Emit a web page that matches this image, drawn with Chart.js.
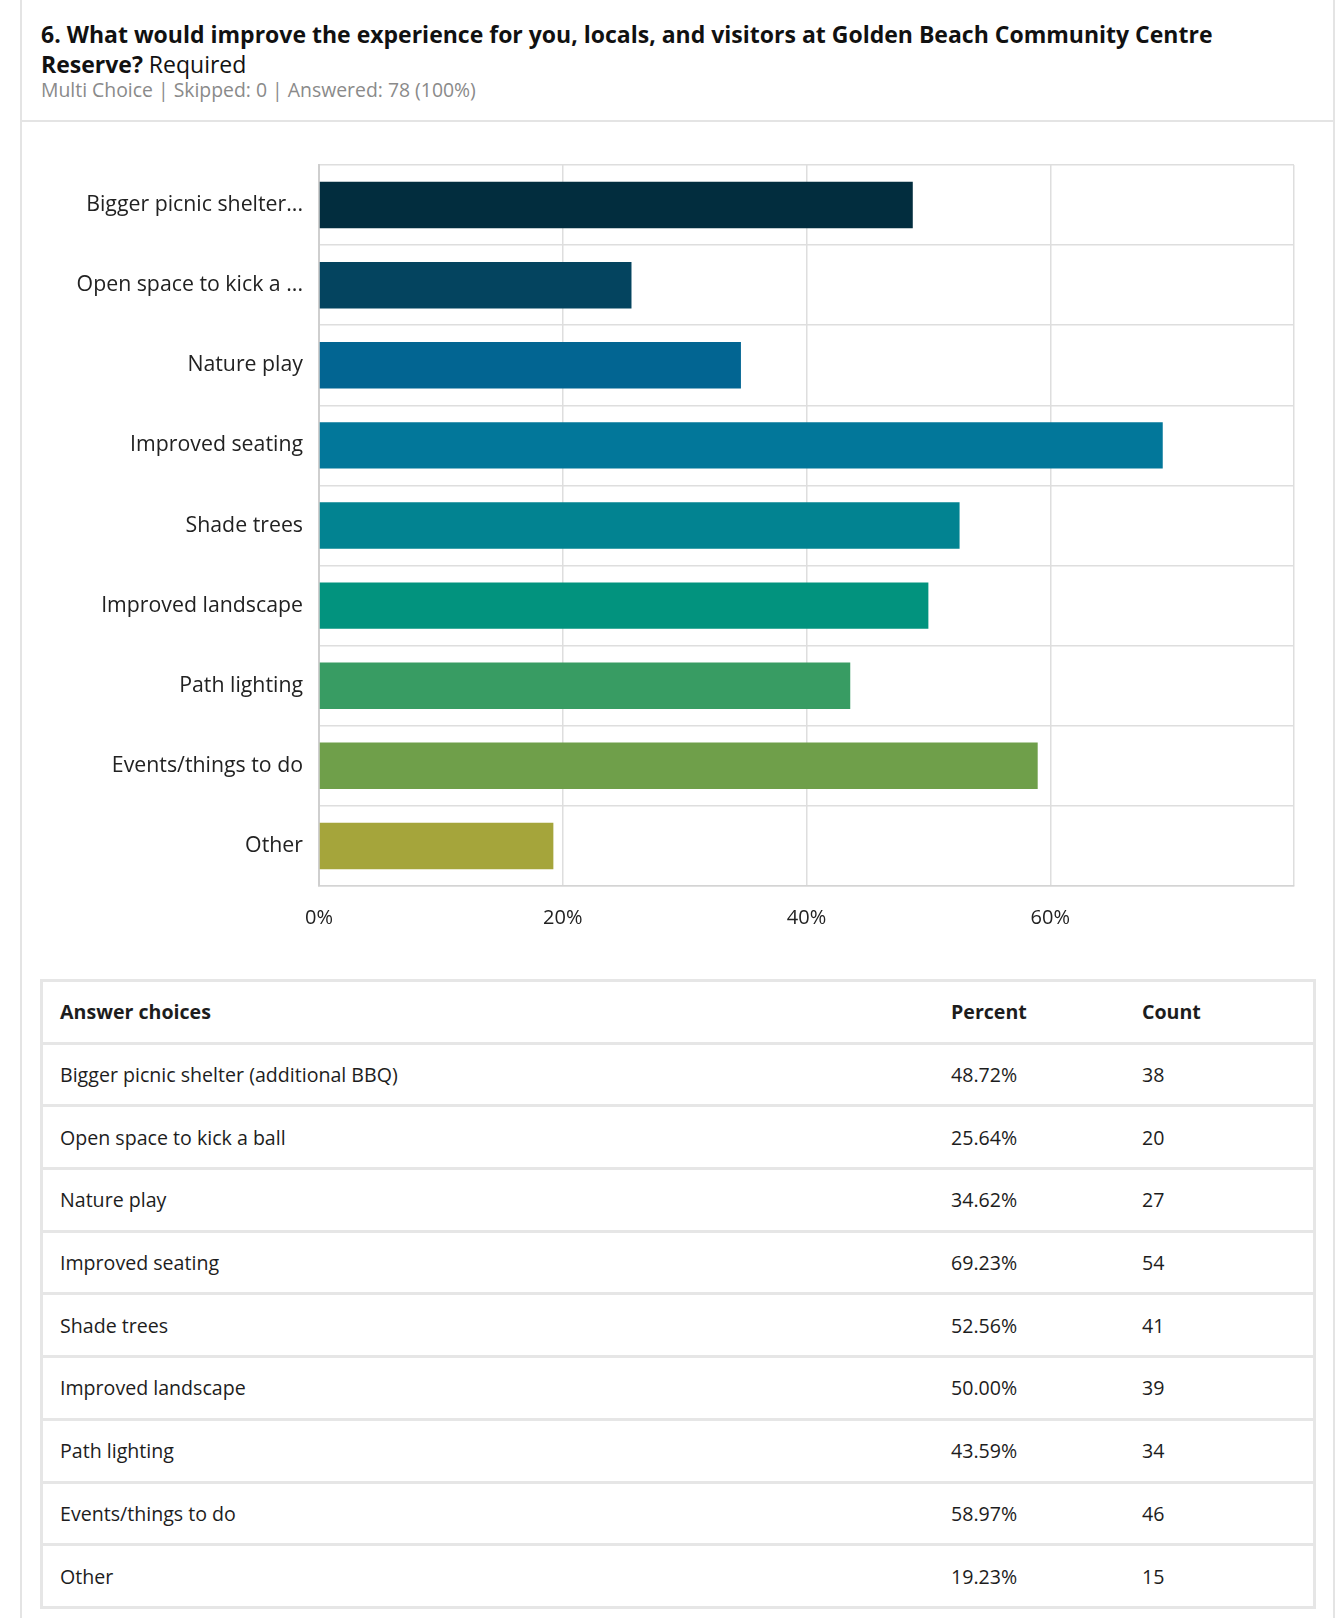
<!DOCTYPE html>
<html>
<head>
<meta charset="utf-8">
<script src="https://cdn.jsdelivr.net/npm/chart.js@4"></script>
<style>
  body { margin: 0; width: 1335px; height: 1618px; overflow: hidden; background: #fff; font-family: "Open Sans", "Noto Sans", sans-serif; color: #1d1d1d; }
  #card { position: absolute; left: 20px; top: -3px; width: 1311px; height: 1640px; border: 2px solid #e4e4e4; }
  #head { position: absolute; left: 19px; top: 20px; white-space: nowrap; }
  #title { font-size: 23px; line-height: 30px; color: #111; }
  #title b { font-weight: 700; }
  #sub { font-size: 19.4px; color: #8a8a8a; line-height: 22px; }
  #sep { position: absolute; left: 0; top: 121px; width: 1311px; height: 2px; background: #e4e4e4; }
  #chartBox { position: absolute; left: 2px; top: 126px; width: 1309px; height: 826px; }
  #tbl { position: absolute; left: 18px; top: 980px; width: 1276px; border-collapse: collapse; font-size: 19.6px; }
  #tbl td, #tbl th { border: 3px solid #e6e6e6; border-left: none; border-right: none; height: 59.7px; padding: 0 0 0 17px; text-align: left; }
  #tbl { border-left: 3px solid #e6e6e6; border-right: 3px solid #e6e6e6; }
  #tbl th { font-weight: 700; }
</style>
</head>
<body>
<div id="card">
  <div id="head">
    <div id="title"><b>6. What would improve the experience for you, locals, and visitors at Golden Beach Community Centre<br>Reserve?</b> Required</div>
    <div id="sub">Multi Choice | Skipped: 0 | Answered: 78 (100%)</div>
  </div>
  <div id="sep"></div>
  <div id="chartBox"><canvas id="grafico"></canvas></div>
  <table id="tbl"></table>
</div>
<script>
// datos de la pregunta 6
var ANSWERS = ["Bigger picnic shelter (additional BBQ)", "Open space to kick a ball", "Nature play", "Improved seating", "Shade trees", "Improved landscape", "Path lighting", "Events/things to do", "Other"];
var CHART_LABELS = ["Bigger picnic shelter...", "Open space to kick a ...", "Nature play", "Improved seating", "Shade trees", "Improved landscape", "Path lighting", "Events/things to do", "Other"];
var PERCENTS = [48.72, 25.64, 34.62, 69.23, 52.56, 50.00, 43.59, 58.97, 19.23];
var COUNTS = [38, 20, 27, 54, 41, 39, 34, 46, 15];
var X_TICKS = [0, 20, 40, 60];
var BAR_COLORS = ["#022d3e", "#04445f", "#026592", "#02779a", "#028391", "#02937e", "#389c63", "#6f9f4a", "#a5a53b"];

// tabla de respuestas
var tbl = document.getElementById("tbl");
var html = '<tr><th style="width:874px">Answer choices</th><th style="width:174px">Percent</th><th>Count</th></tr>';
for (var i = 0; i < ANSWERS.length; i++) {
  html += '<tr><td>' + ANSWERS[i] + '</td><td>' + PERCENTS[i].toFixed(2) + '%</td><td>' + COUNTS[i] + '</td></tr>';
}
tbl.innerHTML = html;

var ctx = document.getElementById("grafico").getContext("2d");
window.myBar = new Chart(ctx, {
  type: "bar",
  data: {
    labels: CHART_LABELS,
    datasets: [{
      data: PERCENTS,
      backgroundColor: BAR_COLORS,
      borderWidth: 0,
      barPercentage: 0.58,
      categoryPercentage: 1
    }]
  },
  options: {
    indexAxis: "y",
    responsive: true,
    maintainAspectRatio: false,
    animation: false,
    layout: { padding: { top: 40, right: 39, bottom: 0, left: 0 } },
    plugins: { legend: { display: false }, tooltip: { enabled: false } },
    scales: {
      x: {
        min: 0, max: 80,
        afterBuildTicks: function (scale) {
          scale.ticks = X_TICKS.concat([80]).map(function (v) { return { value: v }; });
        },
        afterFit: function (scale) { scale.height = 65; },
        grid: { color: "#dedede", lineWidth: 1.5, drawTicks: false },
        border: { color: "#d4d4d4", width: 1.5 },
        ticks: {
          padding: 20,
          color: "#222",
          font: { family: "Open Sans", size: 20 },
          callback: function (v) { return v === 80 ? "" : v + "%"; }
        }
      },
      y: {
        afterFit: function (scale) { scale.width = 295; },
        grid: { color: "#dedede", lineWidth: 1.5, drawTicks: false },
        border: { color: "#cfcfcf", width: 2 },
        ticks: {
          padding: 16,
          color: "#222",
          font: { family: "Open Sans", size: 21.3 }
        }
      }
    }
  }
});
</script>
</body>
</html>
